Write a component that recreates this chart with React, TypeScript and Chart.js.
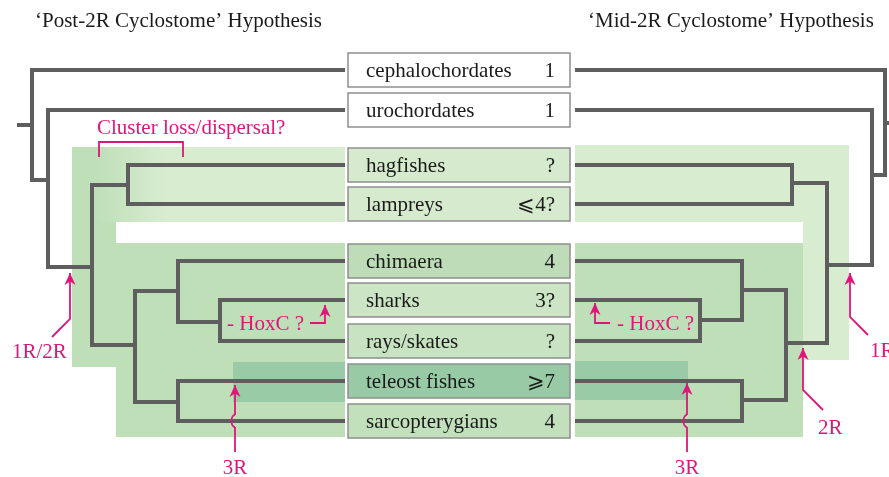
import { useEffect, useRef } from 'react';
import { Chart, registerables } from 'chart.js';

Chart.register(...registerables);

const W = 889;
const H = 477;

// ---- data ----
const taxa = ['cephalochordates', 'urochordates', 'hagfishes', 'lampreys', 'chimaera', 'sharks', 'rays/skates', 'teleost fishes', 'sarcopterygians'];
const geneCounts = ['1', '1', '?', '⩽4?', '4', '3?', '?', '⩾7', '4'];
const rowY = [70, 110, 165, 204, 261, 300, 341, 381, 421];
const titles = ['‘Post-2R Cyclostome’ Hypothesis', '‘Mid-2R Cyclostome’ Hypothesis'];

// tree topology: tK = taxon K, nK = internal node K
const nodeKids = [['t2', 't3'], ['t5', 't6'], ['t4', 'n1'], ['t7', 't8'], ['n2', 'n3'], ['n0', 'n4'], ['t1', 'n5'], ['t0', 'n6']];
const leftNodeX = [128, 220, 178, 178, 135, 92, 48, 32];
const leftNodeY = [185, 322, 291, 402, 345, 267, 180, 125];
const rightNodeX = [792, 700, 742, 742, 786, 827, 872, 885];
const rightNodeY = [183, 320, 290, 400, 343, 265, 175, 123];

// ---- layout / style ----
const leftLeafX = 345;
const rightLeafX = 575;
const leftRootX = 17;
const rightRootX = 897;
const boxLeft = 348;
const boxRight = 570;
const boxHalf = 17;
const labelX = 366;
const countX = 555;
const FONT = '21px "Liberation Serif", "Times New Roman", serif';
const GRAY = '#5e5e5e';
const PINK = '#e0157a';
const LIGHT = '#d8ecd0';
const MED = '#bedfb8';
const DARK = '#9acba7';
const boxFills = ['#ffffff', '#ffffff', '#d6ebcd', '#d6ebcd', '#bddcb7', '#cce5c5', '#c8e3c1', '#98caa5', '#c3e0bc'];

const shading = [
  { x0: 72, x1: 116, y0: 147, y1: 367, fill: MED },
  { x0: 116, x1: 345, y0: 243, y1: 437, fill: MED },
  { x0: 72, x1: 345, y0: 147, y1: 222, fill: 'gradL' },
  { x0: 233, x1: 345, y0: 362, y1: 402, fill: DARK },
  { x0: 575, x1: 849, y0: 145, y1: 222, fill: LIGHT },
  { x0: 803, x1: 849, y0: 222, y1: 360, fill: LIGHT },
  { x0: 575, x1: 803, y0: 243, y1: 437, fill: MED },
  { x0: 575, x1: 688, y0: 361, y1: 400, fill: DARK },
];

const arrows = [
  [[52, 337], [70, 319], [70, 273]],
  [[310, 323], [325, 323], [325, 305]],
  [[235, 452], [235, 385]],
  [[687, 452], [687, 383]],
  [[610, 323], [595, 323], [595, 303]],
  [[823, 410], [803, 390], [803, 348]],
  [[868, 335], [850, 317], [850, 273]],
];
const hops = [[235, 421], [687, 421]];
const bracket = [[99, 157], [99, 142], [183, 142], [183, 157]];

const notes = [
  { t: 'Cluster loss/dispersal?', x: 97, y: 134, a: 'left' },
  { t: '1R/2R', x: 12, y: 358, a: 'left' },
  { t: '- HoxC ?', x: 227, y: 330, a: 'left' },
  { t: '- HoxC ?', x: 617, y: 330, a: 'left' },
  { t: '3R', x: 235, y: 474, a: 'center' },
  { t: '3R', x: 687, y: 474, a: 'center' },
  { t: '2R', x: 818, y: 434, a: 'left' },
  { t: '1R', x: 870, y: 357, a: 'left' },
];

function treePolys(nodeX: number[], nodeY: number[], leafX: number) {
  const pos = (k: string) => {
    const i = parseInt(k.slice(1), 10);
    return k[0] === 't' ? { x: leafX, y: rowY[i] } : { x: nodeX[i], y: nodeY[i] };
  };
  return nodeKids.map((kids, i) => {
    const a = pos(kids[0]);
    const b = pos(kids[1]);
    return [
      { x: a.x, y: a.y },
      { x: nodeX[i], y: a.y },
      { x: nodeX[i], y: b.y },
      { x: b.x, y: b.y },
    ];
  });
}

export default function App() {
  const ref = useRef<HTMLCanvasElement>(null);
  useEffect(() => {
    document.body.style.margin = '0';
    const polys = [
      ...treePolys(leftNodeX, leftNodeY, leftLeafX),
      ...treePolys(rightNodeX, rightNodeY, rightLeafX),
      [{ x: leftRootX, y: leftNodeY[7] }, { x: leftNodeX[7], y: leftNodeY[7] }],
      [{ x: rightNodeX[7], y: rightNodeY[7] }, { x: rightRootX, y: rightNodeY[7] }],
    ];
    const grayDs = polys.map((p) => ({
      data: p,
      showLine: true,
      borderColor: GRAY,
      borderWidth: 4,
      pointRadius: 0,
      borderJoinStyle: 'miter' as const,
      borderCapStyle: 'butt' as const,
      clip: false as any,
      tension: 0,
    }));
    const pinkPolys: { x: number; y: number }[][] = [];
    arrows.forEach((ar) => pinkPolys.push(ar.map(([x, y]) => ({ x, y }))));
    pinkPolys.push(bracket.map(([x, y]) => ({ x, y })));
    const pinkDs = pinkPolys.map((p) => ({
      data: p,
      showLine: true,
      borderColor: PINK,
      borderWidth: 1.8,
      pointRadius: 0,
      borderJoinStyle: 'miter' as const,
      clip: false as any,
      tension: 0,
    }));

    const backdrop = {
      id: 'backdrop',
      beforeDatasetsDraw(chart: any) {
        const { ctx } = chart;
        const sx = chart.scales.x;
        const sy = chart.scales.y;
        ctx.save();
        shading.forEach((r) => {
          const x0 = sx.getPixelForValue(r.x0);
          const x1 = sx.getPixelForValue(r.x1);
          const y0 = sy.getPixelForValue(r.y0);
          const y1 = sy.getPixelForValue(r.y1);
          if (r.fill === 'gradL') {
            const g = ctx.createLinearGradient(sx.getPixelForValue(96), 0, sx.getPixelForValue(165), 0);
            g.addColorStop(0, MED);
            g.addColorStop(1, LIGHT);
            ctx.fillStyle = g;
          } else ctx.fillStyle = r.fill;
          ctx.fillRect(x0, y0, x1 - x0, y1 - y0);
        });
        // boxes
        taxa.forEach((t, i) => {
          const x0 = sx.getPixelForValue(boxLeft);
          const x1 = sx.getPixelForValue(boxRight);
          const y0 = sy.getPixelForValue(rowY[i] - boxHalf);
          const y1 = sy.getPixelForValue(rowY[i] + boxHalf);
          ctx.fillStyle = boxFills[i];
          ctx.fillRect(x0, y0, x1 - x0, y1 - y0);
          ctx.strokeStyle = '#8e8e8e';
          ctx.lineWidth = 1.5;
          ctx.strokeRect(x0, y0, x1 - x0, y1 - y0);
        });
        ctx.restore();
      },
      afterDatasetsDraw(chart: any) {
        const { ctx } = chart;
        const sx = chart.scales.x;
        const sy = chart.scales.y;
        ctx.save();
        ctx.font = FONT;
        ctx.textBaseline = 'alphabetic';
        ctx.fillStyle = '#1a1a1a';
        taxa.forEach((t, i) => {
          ctx.textAlign = 'left';
          ctx.fillText(t, sx.getPixelForValue(labelX), sy.getPixelForValue(rowY[i] + 7));
          ctx.textAlign = 'right';
          ctx.fillText(geneCounts[i], sx.getPixelForValue(countX), sy.getPixelForValue(rowY[i] + 7));
        });
        ctx.textAlign = 'left';
        ctx.fillText(titles[0], sx.getPixelForValue(35), sy.getPixelForValue(27));
        ctx.fillText(titles[1], sx.getPixelForValue(588), sy.getPixelForValue(27));
        ctx.fillStyle = PINK;
        notes.forEach((n) => {
          ctx.textAlign = n.a;
          ctx.fillText(n.t, sx.getPixelForValue(n.x), sy.getPixelForValue(n.y));
        });
        // arrowheads
        arrows.forEach((ar) => {
          const [px, py] = ar[ar.length - 2];
          const [tx, ty] = ar[ar.length - 1];
          const X = sx.getPixelForValue(tx);
          const Y = sy.getPixelForValue(ty);
          const ang = Math.atan2(sy.getPixelForValue(ty) - sy.getPixelForValue(py), sx.getPixelForValue(tx) - sx.getPixelForValue(px));
          const L = 12;
          const Wd = 5.5;
          ctx.beginPath();
          ctx.moveTo(X, Y);
          ctx.lineTo(X - L * Math.cos(ang) - Wd * Math.sin(ang), Y - L * Math.sin(ang) + Wd * Math.cos(ang));
          ctx.lineTo(X - L * 0.7 * Math.cos(ang), Y - L * 0.7 * Math.sin(ang));
          ctx.lineTo(X - L * Math.cos(ang) + Wd * Math.sin(ang), Y - L * Math.sin(ang) - Wd * Math.cos(ang));
          ctx.closePath();
          ctx.fill();
        });
        // line hops over the sarcopterygian branch
        hops.forEach(([hx, hy]) => {
          const X = sx.getPixelForValue(hx);
          const Y = sy.getPixelForValue(hy);
          ctx.fillStyle = MED;
          ctx.fillRect(X - 1.5, Y - 6, 3, 12);
          ctx.fillStyle = GRAY;
          ctx.fillRect(X - 2, Y - 2, 4, 4);
          ctx.strokeStyle = PINK;
          ctx.lineWidth = 1.8;
          ctx.beginPath();
          ctx.ellipse(X, Y, 3.5, 6, 0, Math.PI / 2, (3 * Math.PI) / 2, false);
          ctx.stroke();
        });
        ctx.restore();
      },
    };

    const chart = new Chart(ref.current!, {
      type: 'scatter',
      data: { datasets: [...grayDs, ...pinkDs] as any },
      options: {
        responsive: false,
        animation: false,
        events: [],
        layout: { padding: 0 },
        scales: {
          x: { type: 'linear', min: 0, max: W, display: false },
          y: { type: 'linear', min: 0, max: H, reverse: true, display: false },
        },
        plugins: { legend: { display: false }, tooltip: { enabled: false } },
      },
      plugins: [backdrop],
    });
    return () => chart.destroy();
  }, []);
  return <canvas ref={ref} width={W} height={H} style={{ display: 'block', width: W, height: H }} />;
}
